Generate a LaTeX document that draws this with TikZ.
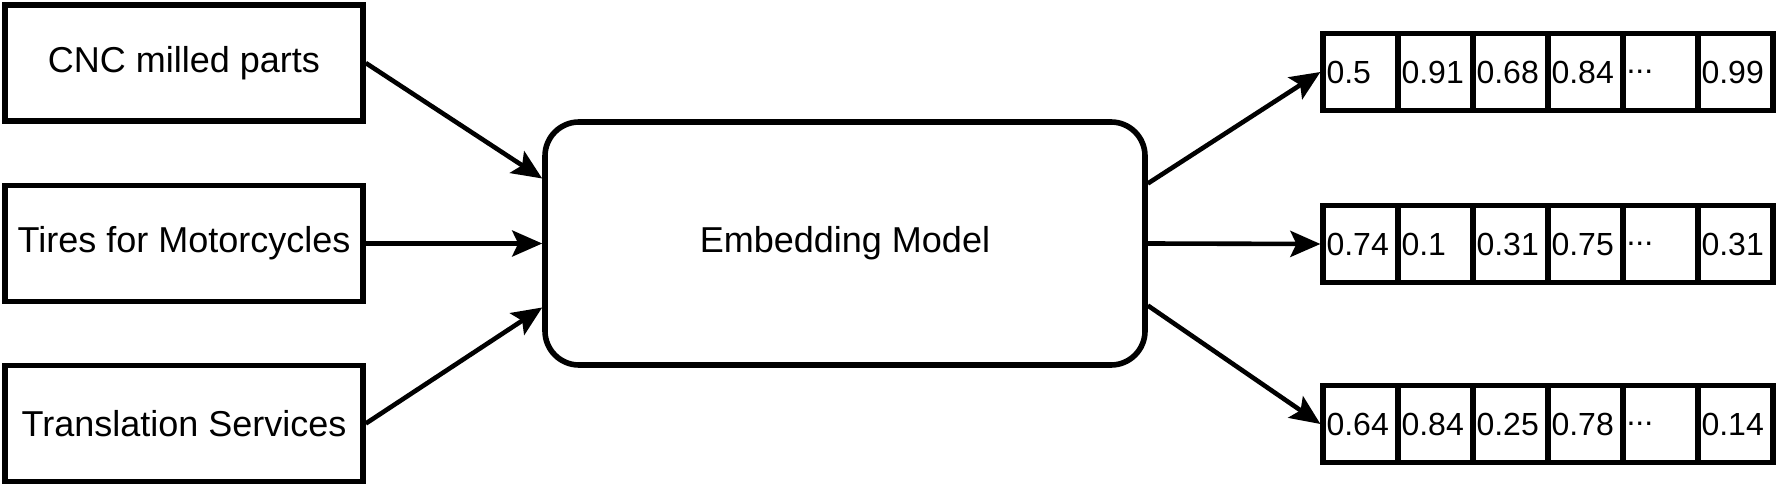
\documentclass[tikz,border=0pt]{standalone}
\usepackage{fontspec}
\setmainfont{Liberation Sans}
\usetikzlibrary{arrows.meta, positioning}

\newcommand{\ellip}{.{}.{}.}

\begin{document}
\begin{tikzpicture}[x=0.5pt, y=-0.5pt,
    inbox/.style={draw, line width=2.8pt, minimum width=179pt, minimum height=58pt, inner sep=0pt, font=\fontsize{18}{21}\selectfont},
    cell/.style={draw, line width=2.6pt, minimum width=37.5pt, minimum height=38.5pt, text width=34pt, align=left, inner sep=1.5pt, font=\fontsize{16}{19}\selectfont},
    flow/.style={line width=2.3pt, -{Stealth[length=15pt, width=13pt, inset=3pt]}}]

    \useasboundingbox (0,0) rectangle (1776,486);

    % inputs
    \node[inbox] (cnc) at (184,63) {CNC milled parts};
    \node[inbox] (tires) at (184,243.5) {Tires for Motorcycles};
    \node[inbox] (transl) at (184,423.5) {Translation Services};

    % model
    \node[draw, line width=2.8pt, rounded corners=17pt, minimum width=300pt, minimum height=121.5pt, font=\fontsize{18}{21}\selectfont] (model) at (845,243.5) {Embedding Model};

    % 1
    \foreach \v [count=\i] in {0.5, 0.91, 0.68, 0.84, \ellip, 0.99}
        \node[cell] (a\i) at (1285.5+75*\i,72) {\v};
    % 2
    \foreach \v [count=\i] in {0.74, 0.1, 0.31, 0.75, \ellip, 0.31}
        \node[cell] (b\i) at (1285.5+75*\i,244) {\v};
    % 3
    \foreach \v [count=\i] in {0.64, 0.84, 0.25, 0.78, \ellip, 0.14}
        \node[cell] (c\i) at (1285.5+75*\i,424) {\v};

    % arrows in
    \draw[flow] (cnc.east) -- ([yshift=32.5pt]model.west);
    \draw[flow] (tires.east) -- (model.west);
    \draw[flow] (transl.east) -- ([yshift=-32pt]model.west);

    % arrows out
    \draw[flow] ([yshift=30pt]model.east) -- (a1.west);
    \draw[flow] (model.east) -- (b1.west);
    \draw[flow] ([yshift=-31pt]model.east) -- (c1.west);

\end{tikzpicture}
\end{document}
